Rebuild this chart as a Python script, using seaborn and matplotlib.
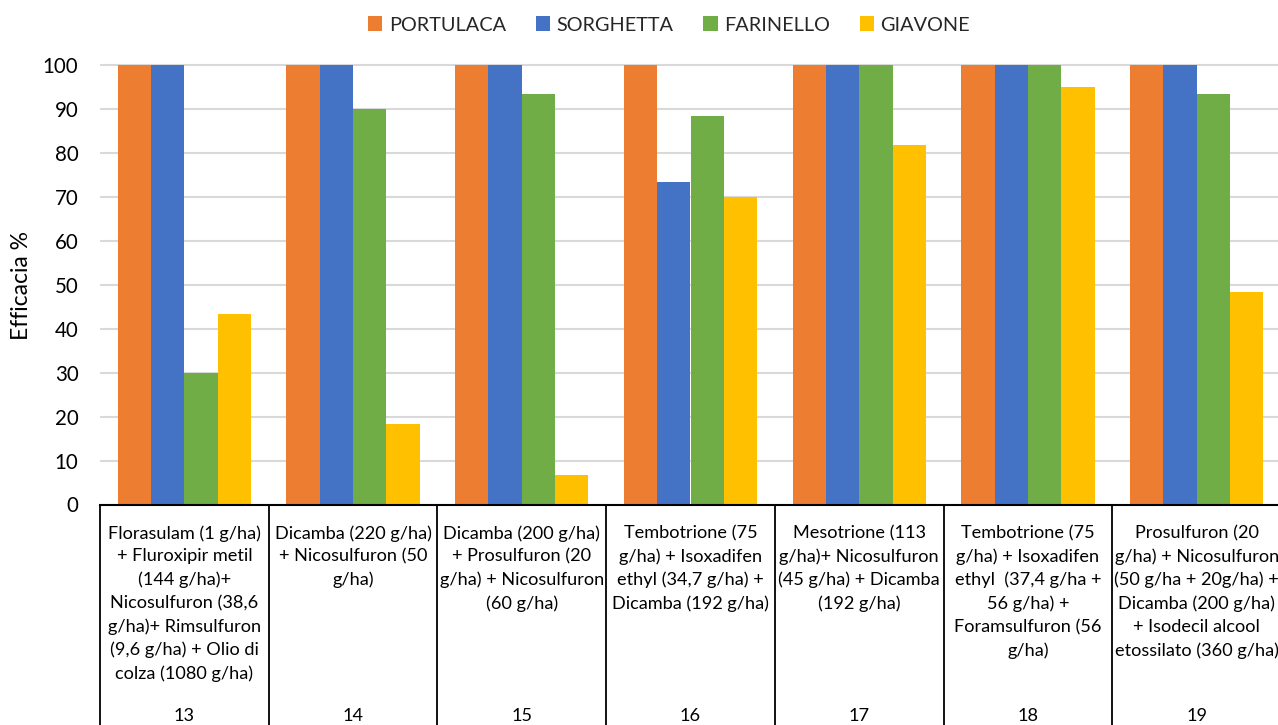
import matplotlib
matplotlib.use("Agg")
import matplotlib.pyplot as plt
import matplotlib.transforms as mtransforms
from matplotlib.patches import Patch
import pandas as pd
import seaborn as sns

# Treatment codes and their descriptions (two-level category axis)
codes = ["13", "14", "15", "16", "17", "18", "19"]
treatments = [
    "Florasulam (1 g/ha)\n+ Fluroxipir metil\n(144 g/ha)+\nNicosulfuron (38,6\ng/ha)+ Rimsulfuron\n(9,6 g/ha) + Olio di\ncolza (1080 g/ha)",
    "Dicamba (220 g/ha)\n+ Nicosulfuron (50\ng/ha)",
    "Dicamba (200 g/ha)\n+ Prosulfuron (20\ng/ha) + Nicosulfuron\n(60 g/ha)",
    "Tembotrione (75\ng/ha) + Isoxadifen\nethyl (34,7 g/ha) +\nDicamba (192 g/ha)",
    "Mesotrione (113\ng/ha)+ Nicosulfuron\n(45 g/ha) + Dicamba\n(192 g/ha)",
    "Tembotrione (75\ng/ha) + Isoxadifen\nethyl  (37,4 g/ha +\n56 g/ha) +\nForamsulfuron (56\ng/ha)",
    "Prosulfuron (20\ng/ha) + Nicosulfuron\n(50 g/ha + 20g/ha) +\nDicamba (200 g/ha)\n+ Isodecil alcool\netossilato (360 g/ha)",
]

# Weed species (series)
species = ["PORTULACA", "SORGHETTA", "FARINELLO", "GIAVONE"]
portulaca = [100, 100, 100, 100, 100, 100, 100]
sorghetta = [100, 100, 100, 73.3, 100, 100, 100]
farinello = [30, 90, 93.3, 88.3, 100, 100, 93.3]
giavone = [43.3, 18.3, 6.7, 70, 81.7, 95, 48.3]

colors = ["#ED7D31", "#4472C4", "#70AD47", "#FFC000"]

rows = []
for sp, vals in zip(species, [portulaca, sorghetta, farinello, giavone]):
    for c, v in zip(codes, vals):
        rows.append({"Trattamento": c, "Specie": sp, "Efficacia": v})
df = pd.DataFrame(rows)

sns.set_theme(style="white")
plt.rcParams["font.family"] = ["Lato", "DejaVu Sans"]

W, H = 1278, 725
fig = plt.figure(figsize=(W / 100, H / 100), dpi=100)

x0, x1 = 100, 1281
y_top, y_bot = 60.6, 504.5
ax = fig.add_axes([x0 / W, 1 - y_bot / H, (x1 - x0) / W, (y_bot - y_top) / H])

sns.barplot(data=df, x="Trattamento", y="Efficacia", hue="Specie",
            order=codes, hue_order=species, palette=colors,
            width=0.79, linewidth=0, saturation=1, ax=ax, legend=False)

ax.set_ylim(0, 101)
ax.set_xlim(-0.5, len(codes) - 0.5)
ax.set_yticks(range(0, 101, 10))
ax.yaxis.grid(True, color="#D9D9D9", linewidth=1.5)
ax.set_axisbelow(True)
for s in ["top", "right", "left"]:
    ax.spines[s].set_visible(False)
ax.spines["bottom"].set_color("#000000")
ax.spines["bottom"].set_linewidth(1.5)
ax.tick_params(axis="y", length=0, labelsize=14.8, pad=15.5, colors="black")
ax.set_xticks([])
ax.set_xlabel("")
ax.set_ylabel("")
fig.text(22 / W, 1 - 285 / H, "Efficacia %", rotation=90, ha="center",
         va="center", fontsize=16.5, color="black")

# Two-level category table below the axis
trans = mtransforms.blended_transform_factory(ax.transData, ax.transAxes)
ax_h_px = y_bot - y_top
to_ax = lambda py: (y_bot - py) / ax_h_px
for i in range(len(codes) + 1):
    ax.plot([i - 0.5, i - 0.5], [0, to_ax(H + 5)], transform=trans,
            color="black", linewidth=1.3, clip_on=False)
for i, (c, t) in enumerate(zip(codes, treatments)):
    ax.text(i, to_ax(525), t, transform=trans, ha="center", va="top",
            fontsize=13.1, linespacing=1.525, color="black")
    ax.text(i, to_ax(716), c, transform=trans, ha="center", va="center",
            fontsize=13.1, color="black")

handles = [Patch(facecolor=col, edgecolor="none", label=sp)
           for sp, col in zip(species, colors)]
fig.legend(handles=handles, loc="center", bbox_to_anchor=(669 / W, 1 - 25 / H),
           ncol=4, frameon=False, fontsize=14.3, handlelength=0.72,
           handleheight=0.72, handletextpad=0.33, columnspacing=1.5)

fig.savefig("out.png", dpi=100)
